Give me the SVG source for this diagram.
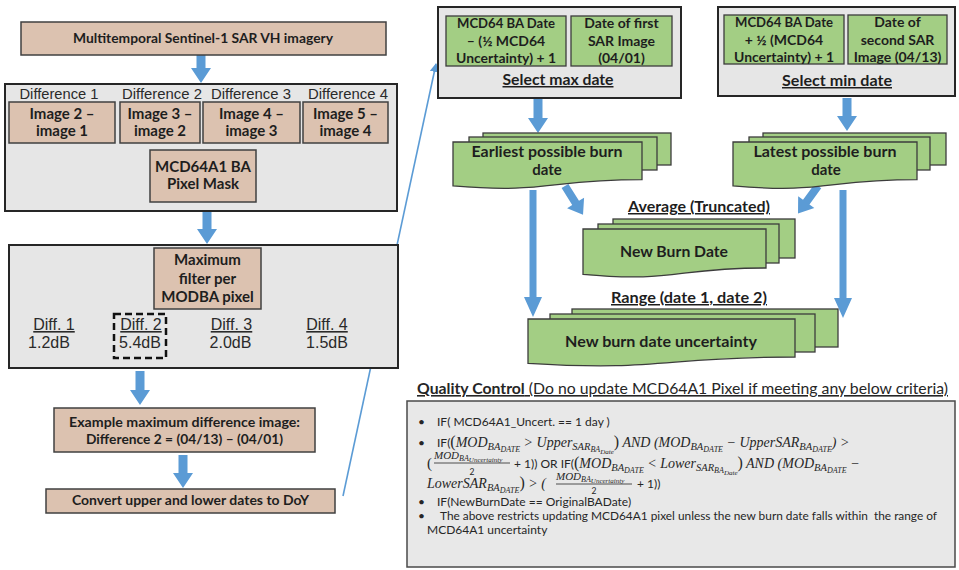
<svg xmlns="http://www.w3.org/2000/svg" width="959" height="570" viewBox="0 0 959 570">
<defs>
<marker id="ah" markerWidth="9" markerHeight="9" refX="8" refY="4.5" orient="auto" markerUnits="userSpaceOnUse"><path d="M0,0 L9,4.5 L0,9 Z" fill="#5b9bd5"/></marker>
<style>
.tan{fill:#dcc2b0;stroke:#404040;stroke-width:1.5}
.gray{fill:#e6e6e6;stroke:#262626;stroke-width:2}
.grn{fill:#a3ce84;stroke:#3c3c3c;stroke-width:1.3}
.arr{fill:#5b9bd5}
.b{font-family:Lato,"Liberation Sans",sans-serif;font-weight:bold;font-size:14px;fill:#1e1e1e;text-anchor:middle}
.h{font-size:15px}
.u{text-decoration:underline}
.a{font-family:"Liberation Sans",Arial,sans-serif;font-size:15px;fill:#2a2a2a;text-anchor:middle}
.d{font-size:16px}
.q{font-family:Lato,"Liberation Sans",sans-serif;font-size:12px;fill:#262626}
.m{font-family:"Liberation Serif",serif;font-style:italic;font-size:14px}
.m1{font-size:10.5px}
.m2{font-size:8px}
.m3{font-size:7px}
.p{font-family:"Liberation Serif",serif;font-style:normal;font-size:16px}
.fl{stroke:#262626;stroke-width:0.8}
</style>
</defs>
<rect width="959" height="570" fill="#ffffff"/>

<g id="connectors">
<polygon class="arr" points="196.5,55 205.5,55 205.5,68 211,68 201,83 191,68 196.5,68"/>
<polygon class="arr" points="202.5,211 211.5,211 211.5,229 217,229 207,244 197,229 202.5,229"/>
<polygon class="arr" points="135.5,371 144.5,371 144.5,390 150,390 140,405 130,390 135.5,390"/>
<polygon class="arr" points="178.5,455 187.5,455 187.5,473 193,473 183,488 173,473 178.5,473"/>
<polygon class="arr" points="533.5,99 542.5,99 542.5,118 548,118 538,133 528,118 533.5,118"/>
<polygon class="arr" points="842.5,98 851.5,98 851.5,116 857,116 847,131 837,116 842.5,116"/>
<polygon class="arr" points="529.5,190 536.5,190 536.5,297 542,297 533,317 524,297 529.5,297"/>
<polygon class="arr" points="839.5,190 846.5,190 846.5,298 852,298 843,318 834,298 839.5,298"/>
<polygon class="arr" transform="translate(565,186) rotate(58)" points="0,-4 20,-4 20,-10 34,0 20,10 20,4 0,4"/>
<polygon class="arr" transform="translate(818,186) rotate(126)" points="0,-4 20,-4 20,-10 34,0 20,10 20,4 0,4"/>
<line x1="343" y1="496" x2="436" y2="64" stroke="#5b9bd5" stroke-width="1.6" marker-end="url(#ah)"/>
</g>

<g id="sar-imagery">
<rect class="tan" x="21" y="22" width="365" height="33"/>
<text class="b" x="203" y="43" textLength="260" lengthAdjust="spacingAndGlyphs">Multitemporal Sentinel-1 SAR VH imagery</text>
</g>

<g id="differences">
<rect class="gray" x="5" y="84" width="392" height="127"/>
<text class="a" x="59" y="99" textLength="79" lengthAdjust="spacingAndGlyphs">Difference 1</text>
<text class="a" x="162" y="99" textLength="80" lengthAdjust="spacingAndGlyphs">Difference 2</text>
<text class="a" x="251" y="99" textLength="80" lengthAdjust="spacingAndGlyphs">Difference 3</text>
<text class="a" x="348" y="99" textLength="80" lengthAdjust="spacingAndGlyphs">Difference 4</text>
</g>
<g id="diff1">
<rect class="tan" x="9" y="102" width="106" height="41"/>
<text class="b h" x="62" y="119">Image 2 –</text>
<text class="b h" x="62" y="136">image 1</text>
</g>
<g id="diff2">
<rect class="tan" x="120" y="102" width="80" height="41"/>
<text class="b h" x="160" y="119">Image 3 –</text>
<text class="b h" x="160" y="136">image 2</text>
</g>
<g id="diff3">
<rect class="tan" x="203" y="102" width="97" height="41"/>
<text class="b h" x="251.5" y="119">Image 4 –</text>
<text class="b h" x="251.5" y="136">image 3</text>
</g>
<g id="diff4">
<rect class="tan" x="303" y="102" width="85" height="41"/>
<text class="b h" x="345.5" y="119">Image 5 –</text>
<text class="b h" x="345.5" y="136">image 4</text>
</g>
<g id="pixel-mask">
<rect class="tan" x="150" y="150" width="106" height="52"/>
<text class="b h" x="203" y="172">MCD64A1 BA</text>
<text class="b h" x="203" y="189">Pixel Mask</text>
</g>

<g id="max-filter-panel">
<rect class="gray" x="9" y="245" width="389" height="123"/>
<text class="a d u" x="54" y="330">Diff. 1</text>
<text class="a d" x="49" y="348">1.2dB</text>
<text class="a d u" x="141" y="330">Diff. 2</text>
<text class="a d" x="140" y="348">5.4dB</text>
<text class="a d u" x="231.5" y="330">Diff. 3</text>
<text class="a d" x="230.5" y="348">2.0dB</text>
<text class="a d u" x="327" y="330">Diff. 4</text>
<text class="a d" x="327" y="348">1.5dB</text>
<rect x="114" y="314" width="52" height="44" fill="none" stroke="#111" stroke-width="2.5" stroke-dasharray="7 4"/>
</g>
<g id="max-filter">
<rect class="tan" x="154" y="248" width="107" height="61"/>
<text class="b h" x="207.5" y="265">Maximum</text>
<text class="b h" x="207.5" y="284">filter per</text>
<text class="b h" x="207.5" y="302">MODBA pixel</text>
</g>

<g id="example">
<rect class="tan" x="54" y="408" width="261" height="44"/>
<text class="b" x="184.5" y="427" textLength="231" lengthAdjust="spacingAndGlyphs">Example maximum difference image:</text>
<text class="b" x="184.5" y="444" textLength="197" lengthAdjust="spacingAndGlyphs">Difference 2 = (04/13) – (04/01)</text>
</g>

<g id="convert">
<rect class="tan" x="46" y="489" width="289" height="24"/>
<text class="b" x="190.5" y="505" textLength="237" lengthAdjust="spacingAndGlyphs">Convert upper and lower dates to DoY</text>
</g>

<g id="select-max">
<rect class="gray" x="438" y="7" width="243" height="91"/>
<rect class="grn" x="446" y="16" width="120" height="50"/>
<text class="b" x="506" y="28" textLength="98" lengthAdjust="spacingAndGlyphs">MCD64 BA Date</text>
<text class="b" x="506" y="46">– (½ MCD64</text>
<text class="b" x="506" y="63" textLength="100" lengthAdjust="spacingAndGlyphs">Uncertainty) + 1</text>
<rect class="grn" x="571" y="16" width="101" height="50"/>
<text class="b" x="621.5" y="28">Date of first</text>
<text class="b" x="621.5" y="46">SAR Image</text>
<text class="b" x="621.5" y="63">(04/01)</text>
<text class="b h u" x="558" y="85" textLength="111" lengthAdjust="spacingAndGlyphs">Select max date</text>
</g>

<g id="select-min">
<rect class="gray" x="718" y="7" width="237" height="89"/>
<rect class="grn" x="724" y="15" width="120" height="49"/>
<text class="b" x="784" y="27" textLength="98" lengthAdjust="spacingAndGlyphs">MCD64 BA Date</text>
<text class="b" x="784" y="45">+ ½ (MCD64</text>
<text class="b" x="784" y="62" textLength="100" lengthAdjust="spacingAndGlyphs">Uncertainty) + 1</text>
<rect class="grn" x="848" y="15" width="99" height="49"/>
<text class="b" x="897.5" y="27">Date of</text>
<text class="b" x="897.5" y="45">second SAR</text>
<text class="b" x="897.5" y="62">Image (04/13)</text>
<text class="b h u" x="837" y="86" textLength="110" lengthAdjust="spacingAndGlyphs">Select min date</text>
</g>

<g id="earliest">
<rect class="grn" x="483" y="133" width="188" height="32"/>
<rect class="grn" x="469" y="137" width="188" height="33"/>
<path class="grn" d="M453,142 H642 V179.7 C547.5,179.7 547.5,194 453,185.9 Z"/>
<text class="b h" x="547" y="157" textLength="151" lengthAdjust="spacingAndGlyphs">Earliest possible burn</text>
<text class="b h" x="547" y="175">date</text>
</g>

<g id="latest">
<rect class="grn" x="763" y="133" width="183" height="32"/>
<rect class="grn" x="749" y="137" width="181" height="33"/>
<path class="grn" d="M733,142 H917 V179.7 C825,179.7 825,194 733,185.9 Z"/>
<text class="b h" x="825" y="157" textLength="143" lengthAdjust="spacingAndGlyphs">Latest possible burn</text>
<text class="b h" x="826" y="175">date</text>
</g>

<g id="new-burn-date">
<text class="b h u" x="699" y="212" textLength="142" lengthAdjust="spacingAndGlyphs">Average (Truncated)</text>
<rect class="grn" x="613" y="219" width="182" height="39"/>
<rect class="grn" x="598" y="224" width="181" height="39"/>
<path class="grn" d="M583,229 H766 V268 C674.5,268 674.5,282.8 583,274.4 Z"/>
<text class="b h" x="674" y="257" textLength="108" lengthAdjust="spacingAndGlyphs">New Burn Date</text>
</g>

<g id="new-burn-uncertainty">
<text class="b h u" x="689" y="303" textLength="156" lengthAdjust="spacingAndGlyphs">Range (date 1, date 2)</text>
<rect class="grn" x="572" y="309" width="266" height="38"/>
<rect class="grn" x="550" y="314" width="265" height="38"/>
<path class="grn" d="M528,319 H795 V357 C661.5,357 661.5,371.5 528,363.3 Z"/>
<text class="b h" x="661" y="347" textLength="192" lengthAdjust="spacingAndGlyphs">New burn date uncertainty</text>
</g>

<g id="quality-control">
<text class="q u" x="417" y="394" style="font-size:16px" textLength="531" lengthAdjust="spacingAndGlyphs"><tspan font-weight="bold">Quality Control</tspan> (Do no update MCD64A1 Pixel if meeting any below criteria)</text>
<rect x="407" y="401" width="548" height="166" fill="#e8e8e8" stroke="#4a4a4a" stroke-width="1.5"/>
<text class="q" x="418" y="426">•</text>
<text class="q" x="437" y="426">IF( MCD64A1_Uncert. == 1 day )</text>
<text class="q" x="418" y="447">•</text>
<text class="q" x="437" y="447">IF(<tspan class="p">(</tspan><tspan class="m">MOD</tspan><tspan class="m m1" dy="3">BA</tspan><tspan class="m m2" dy="2">DATE</tspan><tspan class="m" dy="-5"> &gt; Upper</tspan><tspan class="m m1" dy="3">SAR</tspan><tspan class="m m2" dy="2">BA</tspan><tspan class="m m3" dy="2">Date</tspan><tspan class="p" dy="-7">)</tspan><tspan class="m"> AND (MOD</tspan><tspan class="m m1" dy="3">BA</tspan><tspan class="m m2" dy="2">DATE</tspan><tspan class="m" dy="-5"> − UpperSAR</tspan><tspan class="m m1" dy="3">BA</tspan><tspan class="m m2" dy="2">DATE</tspan><tspan class="m" dy="-5">) &gt;</tspan></text>
<text class="q" x="427" y="468"><tspan class="p" style="font-size:15px">(</tspan></text>
<text class="q" x="434" y="458.5"><tspan class="m" style="font-size:11px">MOD</tspan><tspan class="m" style="font-size:8px" dy="2">BA</tspan><tspan class="m" style="font-size:7px" dy="1.5">Uncertainty</tspan></text>
<line class="fl" x1="434" y1="463" x2="510" y2="463"/>
<text class="q" x="472" y="474.5" style="font-size:8.5px;text-anchor:middle">2</text>
<text class="q" x="514" y="468"> + 1)) OR IF(<tspan class="p">(</tspan><tspan class="m">MOD</tspan><tspan class="m m1" dy="3">BA</tspan><tspan class="m m2" dy="2">DATE</tspan><tspan class="m" dy="-5"> &lt; Lower</tspan><tspan class="m m1" dy="3">SAR</tspan><tspan class="m m2" dy="2">BA</tspan><tspan class="m m3" dy="2">Date</tspan><tspan class="p" dy="-7">)</tspan><tspan class="m"> AND (MOD</tspan><tspan class="m m1" dy="3">BA</tspan><tspan class="m m2" dy="2">DATE</tspan><tspan class="m" dy="-5"> −</tspan></text>
<text class="q" x="427" y="488"><tspan class="m">LowerSAR</tspan><tspan class="m m1" dy="3">BA</tspan><tspan class="m m2" dy="2">DATE</tspan><tspan class="p" dy="-5">)</tspan><tspan class="m"> &gt; (</tspan></text>
<text class="q" x="556" y="479.5"><tspan class="m" style="font-size:11px">MOD</tspan><tspan class="m" style="font-size:8px" dy="2">BA</tspan><tspan class="m" style="font-size:7px" dy="1.5">Uncertainty</tspan></text>
<line class="fl" x1="556" y1="484" x2="632" y2="484"/>
<text class="q" x="594" y="493.5" style="font-size:8.5px;text-anchor:middle">2</text>
<text class="q" x="637" y="488">+ 1))</text>
<text class="q" x="418" y="506">•</text>
<text class="q" x="437" y="506">IF(NewBurnDate == OriginalBADate)</text>
<text class="q" x="418" y="520">•</text>
<text class="q" x="440" y="520" textLength="497" lengthAdjust="spacingAndGlyphs">The above restricts updating MCD64A1 pixel unless the new burn date falls within &#160;the range of</text>
<text class="q" x="427" y="534">MCD64A1 uncertainty</text>
</g>
</svg>
